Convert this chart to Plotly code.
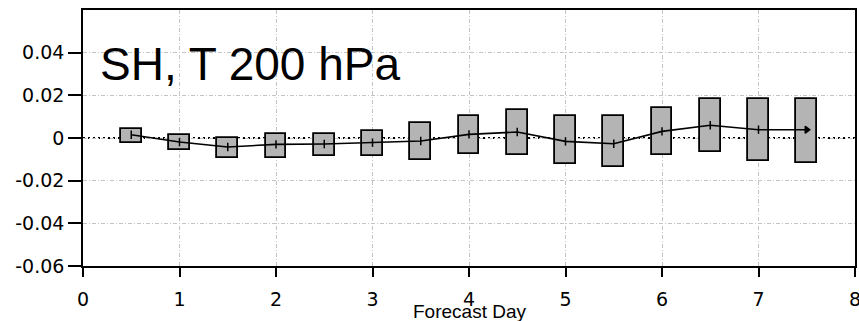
import plotly.graph_objects as go

# Data
days = [0.5, 1.0, 1.5, 2.0, 2.5, 3.0, 3.5, 4.0, 4.5, 5.0, 5.5, 6.0, 6.5, 7.0, 7.5]
box_top = [0.0041, 0.0013, 0.0000, 0.0020, 0.0020, 0.0031, 0.0070, 0.0103, 0.0130,
           0.0102, 0.0102, 0.0142, 0.0184, 0.0184, 0.0184]
box_bottom = [-0.0023, -0.0055, -0.0094, -0.0095, -0.0084, -0.0084, -0.0105, -0.0074, -0.0081,
              -0.0122, -0.0135, -0.0080, -0.0066, -0.0108, -0.0116]
mean_vals = [0.0015, -0.0019, -0.0042, -0.0030, -0.0028, -0.0022, -0.0014, 0.0017, 0.0028,
             -0.0016, -0.0027, 0.0031, 0.0060, 0.0039, 0.0039]

x_ticks = [0, 1, 2, 3, 4, 5, 6, 7, 8]
x_labels = ["0", "1", "2", "3", "4", "5", "6", "7", "8"]
y_ticks = [-0.06, -0.04, -0.02, 0, 0.02, 0.04]
y_labels = ["-0.06", "-0.04", "-0.02", "0", "0.02", "0.04"]

title_text = "SH, T 200 hPa"
x_title = "Forecast Day"

fig = go.Figure()

fig.add_trace(go.Bar(
    x=days,
    y=[t - b for t, b in zip(box_top, box_bottom)],
    base=box_bottom,
    width=0.215,
    marker=dict(color="#b4b4b4", line=dict(color="black", width=1.8)),
    hoverinfo="skip",
    showlegend=False,
))

symbols = ["line-ns-open"] * (len(days) - 1) + ["triangle-right"]
fig.add_trace(go.Scatter(
    x=days,
    y=mean_vals,
    mode="lines+markers",
    line=dict(color="black", width=1.6),
    marker=dict(symbol=symbols, size=6, color="black",
                line=dict(color="black", width=1.5)),
    showlegend=False,
))

# dotted zero line
fig.add_shape(type="line", xref="paper", yref="y", x0=0, x1=1, y0=0, y1=0,
              line=dict(color="black", width=2, dash="2px,3px"), layer="below")

font_ticks = dict(family="DejaVu Sans", size=19, color="black")

fig.update_xaxes(
    range=[0, 8], tickvals=x_ticks, ticktext=x_labels,
    showline=True, linecolor="black", linewidth=1.6, mirror=True,
    ticks="outside", ticklen=9, tickwidth=1.6, tickcolor="black",
    ticklabelstandoff=6, ticklabeloverflow="allow",
    showgrid=True, gridcolor="#c4c4c4", gridwidth=1, griddash="4px,2px,1px,2px",
    zeroline=False, tickfont=font_ticks, automargin=False,
)
fig.update_yaxes(
    range=[-0.06, 0.06], tickvals=y_ticks, ticktext=y_labels,
    showline=True, linecolor="black", linewidth=1.6, mirror=True,
    ticks="outside", ticklen=13, tickwidth=1.6, tickcolor="black",
    ticklabeloverflow="allow",
    showgrid=True, gridcolor="#c4c4c4", gridwidth=1, griddash="4px,2px,1px,2px",
    zeroline=False, tickfont=font_ticks, automargin=False,
)

fig.add_annotation(
    text=title_text, xref="paper", yref="paper", x=0.019, y=0.897,
    xanchor="left", yanchor="top", showarrow=False,
    font=dict(family="Liberation Sans, Arial", size=46, color="black"),
)
fig.add_annotation(
    text=x_title, xref="paper", yref="paper", x=0.5, y=-0.128,
    xanchor="center", yanchor="top", showarrow=False,
    font=dict(family="Liberation Sans, Arial", size=19, color="black"),
)

fig.update_layout(
    width=859, height=321,
    margin=dict(l=83, r=4, t=10, b=55),
    paper_bgcolor="white", plot_bgcolor="white",
    bargap=0, showlegend=False,
)

fig.write_html("out.html")
